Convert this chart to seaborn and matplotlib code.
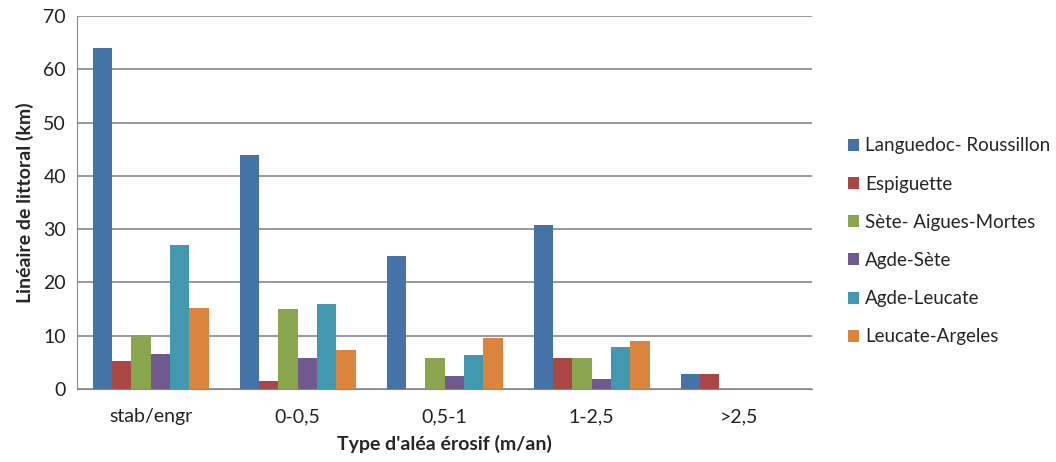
import matplotlib
matplotlib.use('Agg')
from matplotlib import pyplot as plt
import pandas as pd
import seaborn as sns

categories = ['stab/engr', '0-0,5', '0,5-1', '1-2,5', '>2,5']
zones = ['Languedoc- Roussillon', 'Espiguette', 'Sète- Aigues-Mortes',
         'Agde-Sète', 'Agde-Leucate', 'Leucate-Argeles']

languedoc = [64, 44, 25, 30.8, 2.8]
espiguette = [5.2, 1.5, 0, 5.9, 2.8]
sete_am = [10.1, 15, 5.9, 5.9, 0]
agde_sete = [6.5, 5.9, 2.4, 1.9, 0]
agde_leucate = [27, 16, 6.4, 7.9, 0]
leucate_arg = [15.3, 7.4, 9.6, 9.0, 0]

colors = ['#4572A7', '#AA4643', '#89A54E', '#71588F', '#4198AF', '#DB843D']

series = [languedoc, espiguette, sete_am, agde_sete, agde_leucate, leucate_arg]
rows = []
for zone, vals in zip(zones, series):
    for cat, v in zip(categories, vals):
        rows.append({'cat': cat, 'zone': zone, 'val': v})
df = pd.DataFrame(rows)

sns.set_style('white')
plt.rcParams['font.family'] = ['Lato', 'DejaVu Sans']

fig = plt.figure(figsize=(10.56, 4.62), dpi=100)
ax = fig.add_axes([0.073, 0.158, 0.696, 0.807])

sns.barplot(data=df, x='cat', y='val', hue='zone', order=categories,
            hue_order=zones, palette=colors, width=0.79, saturation=1,
            errorbar=None, ax=ax, edgecolor='none')

ax.set_ylim(0, 70)
ax.set_yticks(range(0, 71, 10))
ax.set_xlim(-0.5, 4.5)
ax.yaxis.grid(True, color='#888888', linewidth=1.2)
ax.set_axisbelow(True)
for s in ['top', 'right']:
    ax.spines[s].set_visible(False)
ax.spines['left'].set_color('#888888')
ax.spines['bottom'].set_color('#888888')
ax.tick_params(axis='both', labelsize=14, colors='#222222', length=0, pad=8)
ax.tick_params(axis='x', pad=14)

ax.set_xlabel("Type d'aléa érosif (m/an)", fontsize=14, fontweight='bold', labelpad=7)
ax.set_ylabel('Linéaire de littoral (km)', fontsize=14, fontweight='bold', labelpad=7)

handles, labels = ax.get_legend_handles_labels()
ax.get_legend().remove()
fig.legend(handles, labels, loc='upper left', bbox_to_anchor=(0.787, 0.739),
           frameon=False, fontsize=13.5, handlelength=0.6, handleheight=0.6,
           handletextpad=0.3, labelspacing=1.13)

fig.savefig('out.png', dpi=100)
